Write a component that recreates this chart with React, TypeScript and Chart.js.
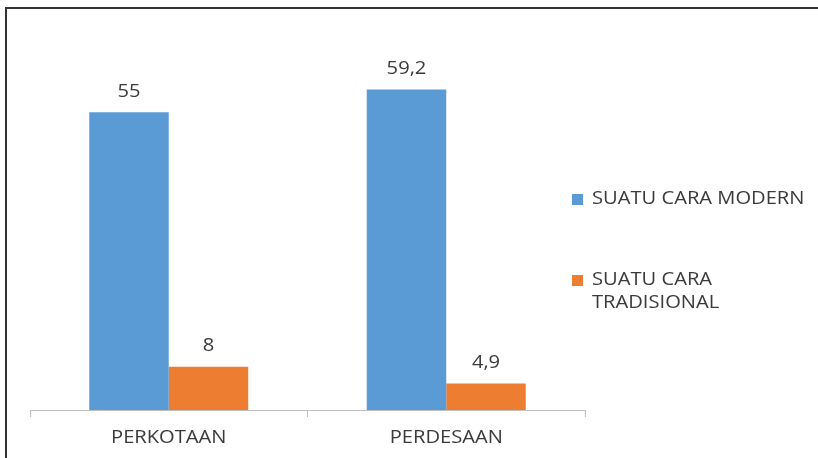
import React, { useEffect, useRef } from "react";
import { Chart, registerables } from "chart.js";

Chart.register(...registerables);

const categories = ["PERKOTAAN", "PERDESAAN"];
const seriesNames = ["SUATU CARA MODERN", "SUATU CARA TRADISIONAL"];
const modernValues = [55, 59.2];
const traditionalValues = [8, 4.9];
const seriesColors = ["#5B9BD5", "#ED7D31"];

const FONT = "'Open Sans', sans-serif";
const TEXT_COLOR = "#3A3A3A";
const STRETCH = 1.06;

const drawStretched = (
  ctx: CanvasRenderingContext2D,
  text: string,
  x: number,
  y: number,
  align: "left" | "center"
) => {
  ctx.save();
  ctx.translate(x, y);
  ctx.scale(STRETCH, 1);
  ctx.textAlign = align;
  ctx.textBaseline = "middle";
  ctx.fillText(text, 0, 0);
  ctx.restore();
};

const wrapText = (ctx: CanvasRenderingContext2D, text: string, maxWidth: number) => {
  const words = text.split(" ");
  const lines: string[] = [];
  let cur = "";
  for (const w of words) {
    const test = cur ? cur + " " + w : w;
    if (ctx.measureText(test).width * STRETCH > maxWidth && cur) {
      lines.push(cur);
      cur = w;
    } else {
      cur = test;
    }
  }
  if (cur) lines.push(cur);
  return lines;
};

const labelPlugin = {
  id: "valueLabels",
  afterDatasetsDraw(chart: any) {
    const ctx = chart.ctx;
    ctx.save();
    ctx.font = `19px ${FONT}`;
    ctx.fillStyle = TEXT_COLOR;
    chart.data.datasets.forEach((ds: any, i: number) => {
      const meta = chart.getDatasetMeta(i);
      meta.data.forEach((bar: any, j: number) => {
        const v = ds.data[j];
        drawStretched(ctx, String(v).replace(".", ","), bar.x, bar.y - 21, "center");
      });
    });
    const xs = chart.scales.x;
    chart.data.labels.forEach((lab: string, i: number) => {
      drawStretched(ctx, lab, xs.getPixelForValue(i), chart.chartArea.bottom + 28, "center");
    });
    ctx.restore();
  },
};

const legendPlugin = {
  id: "sideLegend",
  afterDraw(chart: any) {
    const ctx = chart.ctx;
    ctx.save();
    ctx.font = `19px ${FONT}`;
    const x0 = 572;
    const starts = [199, 280];
    chart.data.datasets.forEach((ds: any, i: number) => {
      const y = starts[i];
      ctx.fillStyle = ds.backgroundColor;
      ctx.fillRect(x0, y - 5, 11, 11);
      ctx.fillStyle = TEXT_COLOR;
      const lines = wrapText(ctx, ds.label, 222);
      lines.forEach((ln: string, k: number) => {
        drawStretched(ctx, ln, x0 + 20, y + k * 23, "left");
      });
    });
    ctx.restore();
  },
};

export default function App() {
  const ref = useRef<HTMLCanvasElement>(null);

  useEffect(() => {
    document.body.style.margin = "0";
    const chart = new Chart(ref.current!, {
      type: "bar",
      data: {
        labels: categories,
        datasets: [
          { label: seriesNames[0], data: modernValues, backgroundColor: seriesColors[0] },
          { label: seriesNames[1], data: traditionalValues, backgroundColor: seriesColors[1] },
        ],
      },
      options: {
        animation: false,
        responsive: false,
        maintainAspectRatio: false,
        layout: { padding: { left: 30, right: 233, top: 31, bottom: 0 } },
        datasets: {
          bar: { categoryPercentage: 0.573, barPercentage: 1 },
        },
        plugins: {
          legend: { display: false },
          tooltip: { enabled: false },
        },
        scales: {
          y: { display: false, min: 0, max: 70 },
          x: {
            afterFit: (scale: any) => {
              scale.height = 48;
            },
            grid: {
              display: true,
              drawOnChartArea: false,
              drawTicks: true,
              tickLength: 7,
              color: "#BFBFBF",
              offset: true,
            },
            border: { display: true, color: "#BFBFBF", width: 1 },
            ticks: {
              color: "rgba(0,0,0,0)",
              font: { family: FONT, size: 19 },
              padding: 6,
            },
          },
        },
      },
      plugins: [labelPlugin, legendPlugin],
    });
    return () => chart.destroy();
  }, []);

  return (
    <div style={{ position: "relative", width: 818, height: 458, background: "#fff", overflow: "hidden" }}>
      <canvas ref={ref} width={818} height={458} style={{ position: "absolute", left: 0, top: 0 }} />
      <div
        style={{
          position: "absolute",
          left: 5,
          top: 7,
          width: 811,
          height: 449,
          borderTop: "2px solid #333",
          borderLeft: "2px solid #333",
          pointerEvents: "none",
        }}
      />
    </div>
  );
}
